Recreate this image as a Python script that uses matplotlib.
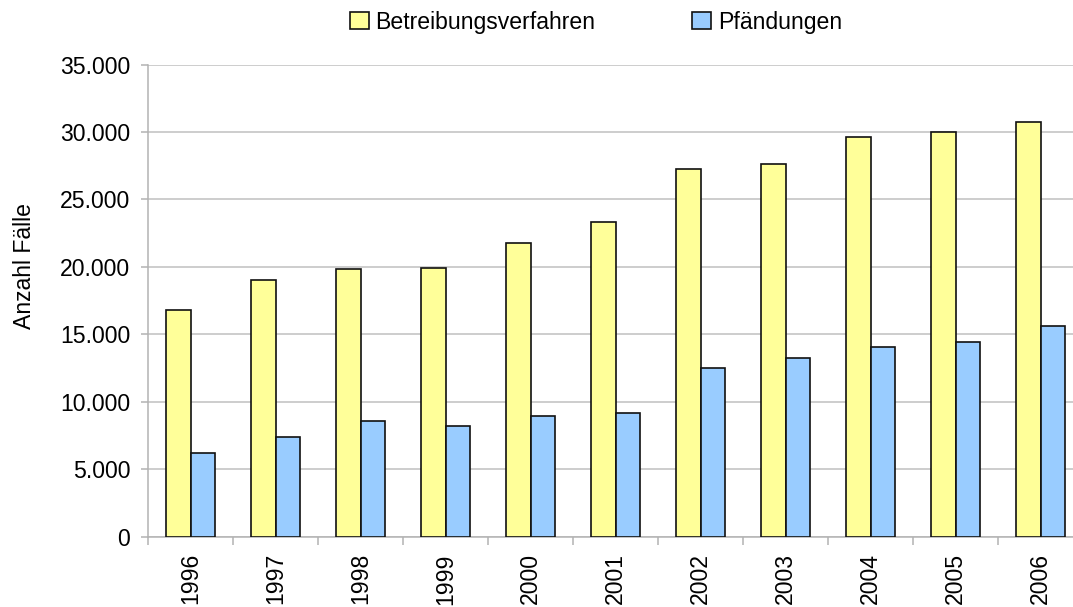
import numpy as np
from matplotlib import pyplot as plt
from matplotlib.ticker import FuncFormatter, MultipleLocator

plt.rcParams['font.family'] = ['Liberation Sans', 'DejaVu Sans']

years = ['1996', '1997', '1998', '1999', '2000', '2001',
         '2002', '2003', '2004', '2005', '2006']
betreibungen = [16770, 19040, 19860, 19890, 21790, 23340,
                27250, 27620, 29650, 29990, 30710]
pfaendungen = [6210, 7380, 8560, 8220, 8940, 9160,
               12490, 13210, 14030, 14400, 15590]

fs = 16.6

fig = plt.figure(figsize=(10.73, 6.07), dpi=100)
# plot area runs past the right edge of the picture, as in the original
ax = fig.add_axes([148.3 / 1073, 70.5 / 607, 935 / 1073, 472 / 607])

x = np.arange(len(years))
w = 0.286
ax.bar(x - w / 2, betreibungen, w, color='#FFFF99', edgecolor='#111111',
       linewidth=1.2, label='Betreibungsverfahren', zorder=3)
ax.bar(x + w / 2, pfaendungen, w, color='#99CCFF', edgecolor='#111111',
       linewidth=1.2, label='Pfändungen', zorder=3)

ax.set_xlim(-0.5, len(years) - 0.5)
ax.set_ylim(0, 35000)
ax.yaxis.set_major_locator(MultipleLocator(5000))
ax.yaxis.set_major_formatter(FuncFormatter(lambda v, p: f'{int(v):,}'.replace(',', '.')))
ax.grid(axis='y', color='#C0C0C0', linewidth=1.1, zorder=0)

ax.set_xticks(x)
ax.set_xticklabels(years, rotation=90)
ax.set_xticks(np.arange(len(years) + 1) - 0.5, minor=True)
ax.tick_params(axis='x', which='major', length=0, pad=12, labelsize=fs)
ax.tick_params(axis='x', which='minor', length=6, color='#B3B3B3', width=1.1)
ax.tick_params(axis='y', length=5, color='#B3B3B3', width=1.1, pad=8, labelsize=fs)

for s in ['top', 'right']:
    ax.spines[s].set_visible(False)
for s in ['left', 'bottom']:
    ax.spines[s].set_color('#B3B3B3')
    ax.spines[s].set_linewidth(1.1)

fig.text(25 / 1073, 1 - 266 / 607, 'Anzahl Fälle', rotation=90,
         ha='center', va='center', fontsize=fs)

fig.legend(loc='center', bbox_to_anchor=(596 / 1073, 1 - 22 / 607), ncol=2,
           frameon=False, fontsize=fs, handlelength=0.8, handleheight=0.8,
           handletextpad=0.3, columnspacing=4.2)

fig.savefig('out.png', dpi=100)
